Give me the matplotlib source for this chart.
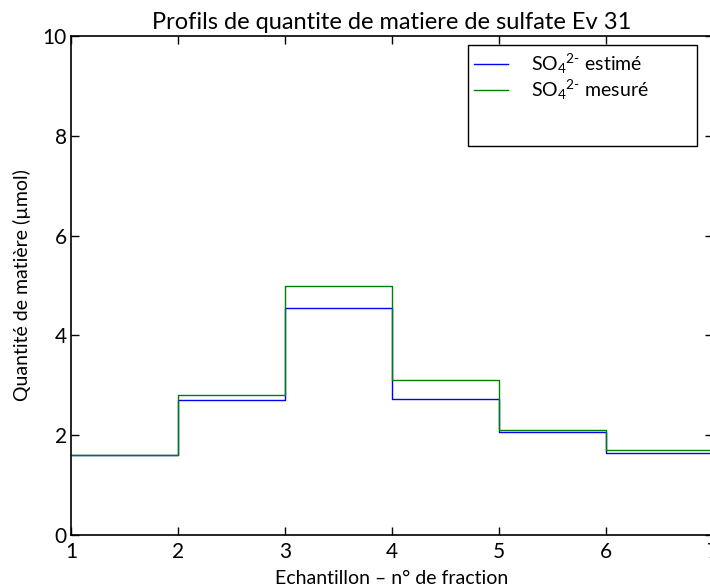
import matplotlib
matplotlib.use('Agg')
import matplotlib.pyplot as plt
from matplotlib.lines import Line2D

plt.rcParams['font.family'] = ['Lato', 'DejaVu Sans']
plt.rcParams['mathtext.fontset'] = 'custom'
plt.rcParams['mathtext.rm'] = 'Lato'
plt.rcParams['mathtext.it'] = 'Lato'

# fraction numbers and quantities (last value repeated to close the step)
fractions = [1, 2, 3, 4, 5, 6, 7]
so4_estime = [1.61, 2.70, 4.54, 2.73, 2.06, 1.65, 1.65]
so4_mesure = [1.60, 2.80, 5.00, 3.10, 2.10, 1.70, 1.70]

fig = plt.figure(figsize=(7.1, 5.87), dpi=100)
ax = fig.add_axes([0.1, 0.0886, 0.904, 0.85])

ax.plot(fractions, so4_estime, color='b', drawstyle='steps-post', lw=1,
        label=r'SO$_4$$^{2\text{-}}$ estimé')
ax.plot(fractions, so4_mesure, color='g', drawstyle='steps-post', lw=1,
        label=r'SO$_4$$^{2\text{-}}$ mesuré')

ax.set_xlim(1, 7)
ax.set_ylim(0, 10)
ax.set_xticks(range(1, 8))
ax.set_yticks([0, 2, 4, 6, 8, 10])
ax.tick_params(direction='in', top=True, right=True, length=6, width=1,
               labelsize=15, pad=3)
ax.tick_params(axis='x', pad=5)
for s in ax.spines.values():
    s.set_linewidth(1.2)

ax.set_title('Profils de quantite de matiere de sulfate Ev 31', fontsize=17, pad=5)
ax.set_xlabel('Echantillon – n° de fraction', fontsize=14, labelpad=6)
ax.set_ylabel('Quantité de matière (µmol)', fontsize=14, labelpad=8)

h, l = ax.get_legend_handles_labels()
blank = Line2D([], [], linestyle='none')
leg = ax.legend(h + [blank, blank], l + ['', ''], loc='upper left',
                bbox_to_anchor=(0.618, 0.5, 0.357, 0.482), mode='expand',
                fontsize=14, fancybox=False, framealpha=1,
                edgecolor='k', handlelength=1.7, borderaxespad=0,
                labelspacing=0.08, handletextpad=1.2, borderpad=0.35)
leg.get_frame().set_linewidth(1.0)

fig.savefig('out.png', dpi=100)
